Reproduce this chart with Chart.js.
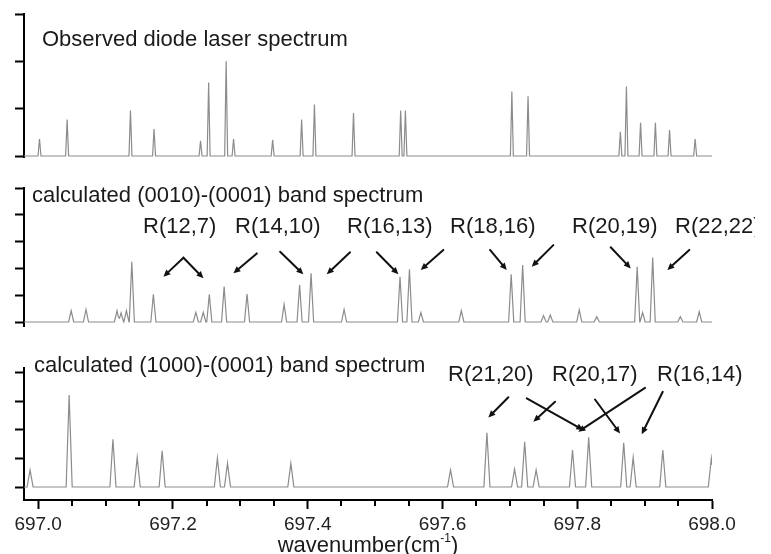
<!DOCTYPE html>
<html>
<head>
<meta charset="utf-8">
<script src="https://cdn.jsdelivr.net/npm/chart.js@4.4.1/dist/chart.umd.min.js"></script>
<style>
  html, body { margin:0; padding:0; background:#fff; }
  #wrap { position:relative; width:771px; height:554px; overflow:hidden; background:#fff; }
  canvas { position:absolute; left:0; }
  .t { position:absolute; font-family:"Liberation Sans", Arial, sans-serif; font-size:22px; line-height:22px; color:#1a1a1a; white-space:nowrap; }
</style>
</head>
<body>
<div id="wrap">
  <canvas id="c1" width="771" height="170" style="top:0px"></canvas>
  <canvas id="c2" width="771" height="170" style="top:170px"></canvas>
  <canvas id="c3" width="771" height="214" style="top:340px"></canvas>

  <div class="t" style="left:42px; top:28px;">Observed diode laser spectrum</div>
  <div class="t" style="left:32px; top:184px;">calculated (0010)-(0001) band spectrum</div>
  <div class="t" style="left:143px; top:215px;">R(12,7)</div>
  <div class="t" style="left:235px; top:215px;">R(14,10)</div>
  <div class="t" style="left:347px; top:215px;">R(16,13)</div>
  <div class="t" style="left:450px; top:215px;">R(18,16)</div>
  <div class="t" style="left:572px; top:215px;">R(20,19)</div>
  <div class="t" style="left:675px; top:215px; width:80px; overflow:hidden;">R(22,22)</div>
  <div class="t" style="left:34px; top:354px;">calculated (1000)-(0001) band spectrum</div>
  <div class="t" style="left:448px; top:363px;">R(21,20)</div>
  <div class="t" style="left:552px; top:363px;">R(20,17)</div>
  <div class="t" style="left:657px; top:363px;">R(16,14)</div>
  <div class="t" style="left:24px; width:688px; text-align:center; top:534px;">wavenumber(cm<span style="font-size:12px; position:relative; top:-10px;">-1</span>)</div>
</div>
<script>
// ---------- data ----------
const xTicks = [697.0, 697.2, 697.4, 697.6, 697.8, 698.0];
const xMinorTicks = [697.05, 697.1, 697.15, 697.25, 697.3, 697.35, 697.45, 697.5, 697.55,
                     697.65, 697.7, 697.75, 697.85, 697.9, 697.95];
const obsTicks = [0, 1, 2, 3];
const band1Ticks = [0, 1, 2, 3, 4, 5];
const band2Ticks = [0, 1, 2, 3, 4];

// Observed diode laser spectrum: line positions (cm-1) and intensities
const obsPos = [697.002, 697.043, 697.137, 697.172, 697.241, 697.253, 697.279, 697.290, 697.348,
                697.391, 697.410, 697.468, 697.538, 697.545, 697.703, 697.727, 697.864, 697.873,
                697.894, 697.916, 697.937, 697.975];
const obsInt = [0.36, 0.77, 0.96, 0.57, 0.32, 1.55, 2.00, 0.36, 0.34,
                0.77, 1.09, 0.91, 0.96, 0.96, 1.36, 1.26, 0.51, 1.47,
                0.70, 0.70, 0.55, 0.36];

// calculated (0010)-(0001) band
const band1Pos = [697.049, 697.071, 697.117, 697.123, 697.131, 697.139, 697.171, 697.234, 697.245,
                  697.254, 697.276, 697.310, 697.365, 697.388, 697.405, 697.454, 697.537, 697.551,
                  697.568, 697.628, 697.702, 697.719, 697.750, 697.760, 697.803, 697.829, 697.889,
                  697.897, 697.912, 697.953, 697.981];
const band1Int = [0.42, 0.47, 0.42, 0.34, 0.42, 2.25, 1.03, 0.36, 0.36,
                  1.03, 1.32, 1.04, 0.66, 1.38, 1.82, 0.47, 1.69, 1.97,
                  0.35, 0.42, 1.78, 2.13, 0.24, 0.26, 0.45, 0.20, 2.06,
                  0.35, 2.41, 0.20, 0.38];

// calculated (1000)-(0001) band
const band2Pos = [696.988, 697.046, 697.111, 697.147, 697.184, 697.266, 697.281, 697.375, 697.612,
                  697.666, 697.707, 697.722, 697.739, 697.793, 697.817, 697.869, 697.883, 697.927,
                  697.999];
const band2Int = [0.60, 3.23, 1.67, 1.04, 1.27, 1.02, 0.83, 0.83, 0.60,
                  1.90, 0.63, 1.59, 0.60, 1.30, 1.74, 1.55, 1.04, 1.30,
                  1.00];

// annotation arrows [xFrom, yFrom, xTo, yTo] in data units of each panel
const band1Arrows = [
  [697.2156, 2.40, 697.1859, 1.69], [697.2156, 2.40, 697.2453, 1.63],
  [697.3245, 2.56, 697.2898, 1.82], [697.3591, 2.62, 697.3936, 1.78],
  [697.4629, 2.60, 697.4283, 1.78], [697.5025, 2.60, 697.5346, 1.78],
  [697.6013, 2.69, 697.5678, 1.94], [697.6706, 2.69, 697.6954, 1.94],
  [697.7645, 2.87, 697.7325, 2.06], [697.8497, 2.79, 697.8794, 2.00],
  [697.9663, 2.69, 697.9337, 1.94]
];
const band2Arrows = [
  [697.6978, 3.15, 697.6681, 2.44], [697.7251, 3.11, 697.8091, 2.00],
  [697.7671, 2.99, 697.7349, 2.29], [697.9006, 3.48, 697.8016, 1.94],
  [697.8264, 3.07, 697.8635, 1.88], [697.9269, 3.34, 697.8957, 1.85]
];

// ---------- helpers ----------
const X_MIN = 696.979, X_MAX = 698.0;

function profile(pos, ints, hw) {
  const xs = new Set([X_MIN, X_MAX]);
  pos.forEach(p => { xs.add(p - hw); xs.add(p); xs.add(p + hw); });
  return [...xs].sort((a, b) => a - b).map(x => ({
    x,
    y: pos.reduce((s, p, i) => s + ints[i] * Math.max(0, 1 - Math.abs(x - p) / hw), 0)
  }));
}

const arrowPlugin = {
  id: 'arrows',
  afterDraw(chart, args, opts) {
    const list = opts.list || [];
    const ctx = chart.ctx, xs = chart.scales.x, ys = chart.scales.y;
    ctx.save();
    ctx.strokeStyle = '#111'; ctx.fillStyle = '#111'; ctx.lineWidth = 2; ctx.lineCap = 'round';
    list.forEach(a => {
      const x1 = xs.getPixelForValue(a[0]), y1 = ys.getPixelForValue(a[1]);
      const x2 = xs.getPixelForValue(a[2]), y2 = ys.getPixelForValue(a[3]);
      const ang = Math.atan2(y2 - y1, x2 - x1);
      const L = 7, W = 3.2;
      const bx = x2 - L * Math.cos(ang), by = y2 - L * Math.sin(ang);
      ctx.beginPath(); ctx.moveTo(x1, y1); ctx.lineTo(bx, by); ctx.stroke();
      ctx.beginPath();
      ctx.moveTo(x2, y2);
      ctx.lineTo(bx + W * Math.sin(ang), by - W * Math.cos(ang));
      ctx.lineTo(bx - W * Math.sin(ang), by + W * Math.cos(ang));
      ctx.closePath(); ctx.fill();
    });
    ctx.restore();
  }
};

const minorTickPlugin = {
  id: 'minorTicks',
  afterDraw(chart, args, opts) {
    if (!opts.values) return;
    const ctx = chart.ctx, xs = chart.scales.x, y0 = chart.chartArea.bottom;
    ctx.save(); ctx.strokeStyle = '#000'; ctx.lineWidth = 2;
    opts.values.forEach(v => {
      const px = Math.round(xs.getPixelForValue(v));
      ctx.beginPath(); ctx.moveTo(px, y0); ctx.lineTo(px, y0 + 6); ctx.stroke();
    });
    ctx.restore();
  }
};

function makeChart(id, pos, ints, hw, yTicks, yMin, yMax, padding, showX, arrows, minor) {
  return new Chart(document.getElementById(id), {
    type: 'line',
    data: { datasets: [{
      data: profile(pos, ints, hw),
      borderColor: '#8c8c8c', borderWidth: 1.2, pointRadius: 0, tension: 0, fill: false
    }]},
    options: {
      responsive: false, animation: false, events: [],
      layout: { padding },
      plugins: { legend: { display: false }, tooltip: { enabled: false },
                 arrows: { list: arrows }, minorTicks: { values: minor } },
      scales: {
        x: {
          type: 'linear', min: X_MIN, max: X_MAX, display: showX, position: 'bottom',
          afterBuildTicks: s => { s.ticks = xTicks.map(v => ({ value: v })); },
          afterFit: s => { s.height = showX ? 54 : 0; },
          border: { display: true, color: '#000', width: 2 },
          grid: { drawOnChartArea: false, drawTicks: true, tickLength: 9, tickWidth: 2, tickColor: '#000' },
          ticks: { autoSkip: false, maxRotation: 0, padding: 4, color: '#222',
                   font: { family: '"Liberation Sans", Arial, sans-serif', size: 19 },
                   callback: v => Number(v).toFixed(1) }
        },
        y: {
          type: 'linear', min: yMin, max: yMax,
          afterBuildTicks: s => { s.ticks = yTicks.map(v => ({ value: v })); },
          afterFit: s => { s.width = 24; },
          border: { display: true, color: '#000', width: 2 },
          grid: { drawOnChartArea: false, drawTicks: true, tickLength: 9, tickWidth: 2, tickColor: '#000' },
          ticks: { display: false }
        }
      }
    },
    plugins: [arrowPlugin, minorTickPlugin]
  });
}

makeChart('c1', obsPos, obsInt, 0.0022, obsTicks, -0.021, 3,
          { left: 0, right: 59, top: 14, bottom: 13 }, false, [], null);
makeChart('c2', band1Pos, band1Int, 0.0038, band1Ticks, -0.149, 5,
          { left: 0, right: 59, top: 18, bottom: 14 }, false, band1Arrows, null);
makeChart('c3', band2Pos, band2Int, 0.0045, band2Ticks, -0.456, 4.175,
          { left: 0, right: 59, top: 28, bottom: 0 }, true, band2Arrows, xMinorTicks);
</script>
</body>
</html>
